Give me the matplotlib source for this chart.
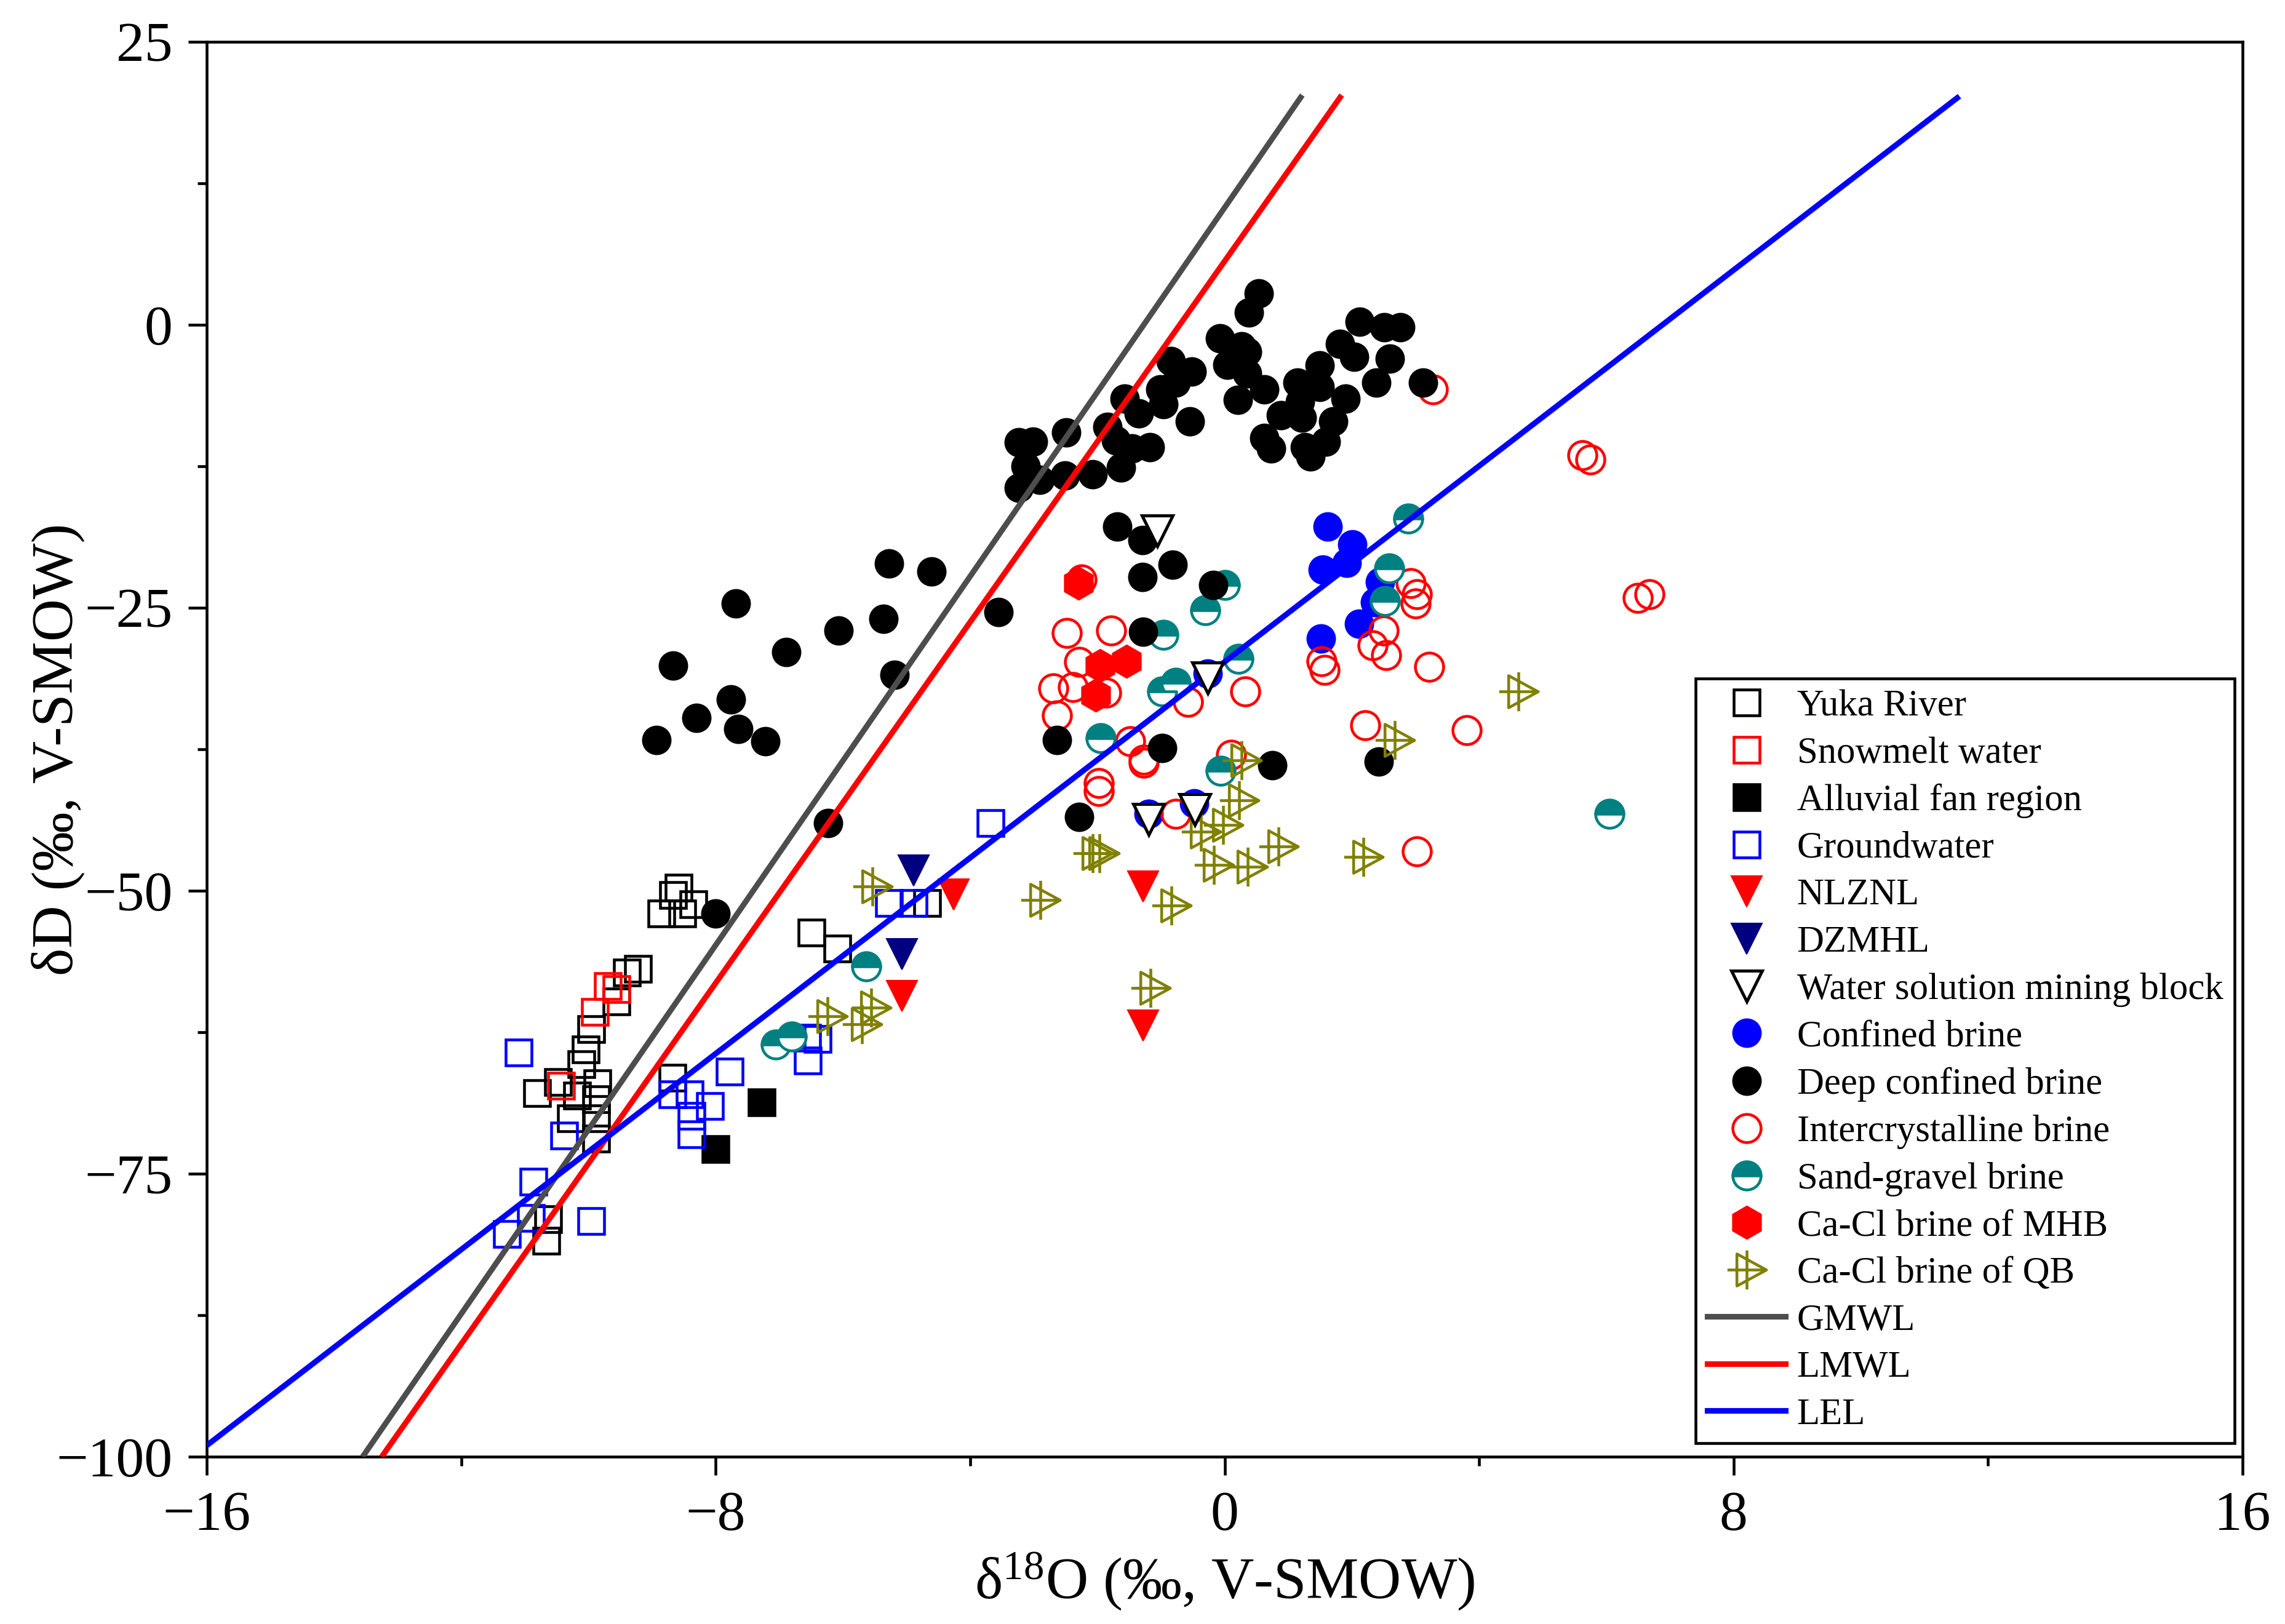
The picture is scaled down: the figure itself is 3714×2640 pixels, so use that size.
import matplotlib
matplotlib.use("Agg")
import matplotlib.pyplot as plt
from matplotlib.path import Path
from matplotlib.lines import Line2D
from matplotlib.ticker import MultipleLocator
import numpy as np

plt.rcParams['font.family'] = ['Liberation Serif', 'DejaVu Serif']
plt.rcParams['mathtext.fontset'] = 'custom'
plt.rcParams['mathtext.rm'] = 'Liberation Serif'
plt.rcParams['mathtext.it'] = 'Liberation Serif:italic'

# ---------------- data ----------------
yuka_x = [-8.58, -8.67, -8.35, -8.85, -8.53, -9.22, -9.40, -9.56, -9.96, -10.04, -10.11, -10.81,
          -10.48, -9.86, -10.18, -9.88, -10.28, -9.88, -9.88, -8.68, -10.63, -10.66, -6.49, -6.09, -4.68]
yuka_y = [-49.7, -50.4, -51.2, -52.0, -52.0, -56.9, -57.2, -59.8, -62.2, -64.0, -65.3, -67.9,
          -66.9, -67.0, -68.1, -68.4, -70.1, -70.1, -71.9, -66.5, -79.0, -80.9, -53.7, -55.1, -51.1]

snow_x = [-9.70, -9.56, -9.90, -10.43]
snow_y = [-58.4, -58.7, -60.7, -67.2]

alluv_x = [-7.28, -8.00]
alluv_y = [-68.7, -72.8]

gw_x = [-11.10, -10.38, -10.87, -10.90, -11.28, -9.96, -8.68, -8.41, -8.09, -8.38, -8.38, -7.78,
        -6.56, -6.40, -6.55, -5.28, -4.89, -3.68]
gw_y = [-64.3, -71.6, -75.7, -78.9, -80.3, -79.2, -68.0, -68.0, -69.0, -69.9, -71.5, -66.0,
        -63.0, -63.1, -65.0, -51.1, -51.1, -44.0]

nlznl_x = [-4.26, -5.07, -1.28, -1.28]
nlznl_y = [-50.3, -59.3, -49.6, -61.9]

dzmhl_x = [-4.89, -5.07]
dzmhl_y = [-48.2, -55.6]

wsmb_x = [-1.06, -0.27, -1.19, -0.47]
wsmb_y = [-18.2, -31.2, -43.7, -42.8]

conf_x = [1.62, 2.01, 1.54, 1.92, 2.44, 2.36, 2.11, 1.51, -0.27, -1.19, -0.48]
conf_y = [-17.8, -19.4, -21.6, -21.0, -22.7, -24.5, -26.4, -27.7, -30.8, -43.2, -42.3]

deep_x = [0.54, 0.38, -0.07, 0.27, 0.35, 0.04, 0.35, 0.62, 0.21, 2.12, 2.51, 2.76, 1.81, 2.04,
          2.60, 2.38, 3.12, 1.49, 1.15, 1.49, 1.90, 0.88, 1.21, 1.71, 0.62, 0.73, 1.26, 1.59,
          1.35, 1.18, -0.85, -0.52, -1.01, -0.77, -1.57, -1.35, -0.96, -0.55, -1.84, -1.71,
          -1.18, -1.63, -2.07, -2.49, -3.24, -3.01, -3.13, -3.24, -2.91, -2.51, -1.46,
          -1.69, -1.29, -1.29, -0.82, -0.18,
          -5.28, -4.61, -7.68, -3.55, -6.07, -5.36, -6.89, -8.67, -5.19, -7.76, -8.30, -7.65,
          -8.93, -7.22, -6.23, -8.00, -1.28, -2.64, -0.98, 0.75, -2.29, 2.42]
deep_y = [2.8, 1.1, -1.2, -1.9, -2.4, -3.5, -4.3, -5.7, -6.6, 0.3, -0.2, -0.2, -1.7, -2.8,
          -3.0, -5.1, -5.1, -3.6, -5.1, -5.5, -6.5, -8.0, -8.2, -8.5, -10.0, -10.9, -10.8, -10.3,
          -11.6, -6.8, -3.2, -4.1, -5.7, -5.1, -6.5, -7.8, -7.0, -8.5, -9.0, -10.2,
          -10.8, -12.6, -13.2, -9.5, -10.4, -10.3, -12.5, -14.4, -13.7, -13.3, -10.9,
          -17.8, -19.0, -22.3, -21.2, -23.0,
          -21.1, -21.8, -24.6, -25.4, -27.0, -26.0, -28.9, -30.1, -30.9, -33.1, -34.7, -35.7,
          -36.7, -36.8, -44.0, -52.0, -27.1, -36.7, -37.4, -38.9, -43.5, -38.6]

inter_x = [-2.25, -2.48, -1.78, -2.29, -2.69, -2.38, -1.86, -2.64, -1.48, -1.27, -1.27, -1.98,
           -1.98, -0.58, 0.32, 0.10, -0.77, 1.52, 1.57, 2.93, 3.02, 3.00, 2.50, 2.33, 2.54,
           3.22, 2.21, 3.81, 3.02, 5.62, 5.75, 6.49, 6.68, 3.27]
inter_y = [-22.5, -27.2, -27.0, -29.8, -32.1, -32.0, -32.5, -34.5, -36.8, -38.4, -38.7, -40.5,
           -41.2, -33.3, -32.4, -38.0, -43.2, -29.7, -30.5, -22.8, -23.8, -24.6, -27.0, -28.3,
           -29.2, -30.2, -35.4, -35.8, -46.5, -11.5, -11.9, -24.1, -23.8, -5.7]

sand_x = [2.89, 2.59, 2.52, 6.05, 0.00, -0.30, -0.96, 0.22, -0.77, -0.98, -1.95, -0.06,
          -5.63, -7.06, -6.80]
sand_y = [-17.1, -21.5, -24.4, -43.2, -23.0, -25.2, -27.4, -29.5, -31.6, -32.4, -36.5, -39.4,
          -56.7, -63.6, -62.9]

mhb_x = [-2.30, -1.96, -1.54, -2.03]
mhb_y = [-22.8, -30.1, -29.7, -32.7]

qb_x = [-6.24, -5.56, -5.70, -5.54, -2.90, -2.07, -1.97, -0.84, -1.17, -0.37, -0.02, 0.23,
        -0.17, 0.36, 0.27, 0.85, 2.18, 2.67, 4.62]
qb_y = [-61.1, -60.3, -61.8, -49.6, -50.8, -46.7, -46.7, -51.3, -58.6, -44.8, -44.2, -42.0,
        -47.7, -47.9, -38.5, -46.1, -47.0, -36.7, -32.4]

# reference lines: end points
gmwl_x = [-13.55, 1.22]
gmwl_y = [-100.0, 20.3]
lmwl_x = [-13.25, 1.84]
lmwl_y = [-100.0, 20.3]
lel_x = [-16.0, 11.55]
lel_y = [-99.0, 20.2]

labels = ["Yuka River", "Snowmelt water", "Alluvial fan region", "Groundwater", "NLZNL",
          "DZMHL", "Water solution mining block", "Confined brine", "Deep confined brine",
          "Intercrystalline brine", "Sand-gravel brine", "Ca-Cl brine of MHB",
          "Ca-Cl brine of QB", "GMWL", "LMWL", "LEL"]

# ---------------- styles ----------------
# custom "right triangle with cross" marker
qb_verts = [(-16, 25.5), (-16, -25.5), (31, 0), (-16, 25.5),
            (-31, 0), (31, 0),
            (0, -31), (0, 31)]
qb_codes = [Path.MOVETO, Path.LINETO, Path.LINETO, Path.CLOSEPOLY,
            Path.MOVETO, Path.LINETO,
            Path.MOVETO, Path.LINETO]
qb_marker = Path(qb_verts, qb_codes)

OLIVE = '#808000'
TEAL = '#008080'
NAVY = '#000080'

SQ = 9.9
styles = {
    "Yuka River": dict(marker='s', ms=SQ, mfc='none', mec='black', mew=1.1),
    "Snowmelt water": dict(marker='s', ms=SQ, mfc='none', mec='#ff0000', mew=1.1),
    "Alluvial fan region": dict(marker='s', ms=SQ, mfc='black', mec='black', mew=1.1),
    "Groundwater": dict(marker='s', ms=SQ, mfc='none', mec='#0000ff', mew=1.1),
    "NLZNL": dict(marker='v', ms=12, mfc='#ff0000', mec='#ff0000', mew=0.5),
    "DZMHL": dict(marker='v', ms=12, mfc=NAVY, mec=NAVY, mew=0.5),
    "Water solution mining block": dict(marker='v', ms=12, mfc='white', mec='black', mew=1.2),
    "Confined brine": dict(marker='o', ms=11, mfc='#0000ff', mec='#0000ff', mew=0.5),
    "Deep confined brine": dict(marker='o', ms=11, mfc='black', mec='black', mew=0.5),
    "Intercrystalline brine": dict(marker='o', ms=11, mfc='none', mec='#ff0000', mew=1.1),
    "Sand-gravel brine": dict(marker='o', ms=11, fillstyle='top', mfc=TEAL,
                              mfcalt='white', mec=TEAL, mew=1.1),
    "Ca-Cl brine of MHB": dict(marker='h', ms=12.8, mfc='#ff0000', mec='#ff0000', mew=0.5),
    "Ca-Cl brine of QB": dict(marker=qb_marker, ms=15.2, mfc='none', mec=OLIVE, mew=1.1),
}
line_styles = {
    "GMWL": dict(color='#4d4d4d', lw=2.2),
    "LMWL": dict(color='#ff0000', lw=2.2),
    "LEL": dict(color='#0000ff', lw=2.2),
}

series = {
    "Yuka River": (yuka_x, yuka_y),
    "Snowmelt water": (snow_x, snow_y),
    "Alluvial fan region": (alluv_x, alluv_y),
    "Groundwater": (gw_x, gw_y),
    "NLZNL": (nlznl_x, nlznl_y),
    "DZMHL": (dzmhl_x, dzmhl_y),
    "Water solution mining block": (wsmb_x, wsmb_y),
    "Confined brine": (conf_x, conf_y),
    "Deep confined brine": (deep_x, deep_y),
    "Intercrystalline brine": (inter_x, inter_y),
    "Sand-gravel brine": (sand_x, sand_y),
    "Ca-Cl brine of MHB": (mhb_x, mhb_y),
    "Ca-Cl brine of QB": (qb_x, qb_y),
}
lines = {"GMWL": (gmwl_x, gmwl_y), "LMWL": (lmwl_x, lmwl_y), "LEL": (lel_x, lel_y)}

draw_order = ["Yuka River", "Snowmelt water", "Alluvial fan region", "Groundwater",
              "Confined brine", "Intercrystalline brine", "Sand-gravel brine",
              "Deep confined brine", "Ca-Cl brine of MHB", "NLZNL", "DZMHL",
              "Ca-Cl brine of QB"]

# ---------------- figure ----------------
fig = plt.figure(figsize=(12.38, 8.8), dpi=300)
ax = fig.add_axes([0.0905, 0.1030, 0.8909, 0.8712])

z = 3
for name in draw_order:
    x, y = series[name]
    ax.plot(x, y, ls='none', zorder=z, **styles[name])
    z += 0.1
for name in ["GMWL", "LMWL", "LEL"]:
    x, y = lines[name]
    ax.plot(x, y, zorder=5, solid_capstyle='butt', **line_styles[name])
x, y = series["Water solution mining block"]
ax.plot(x, y, ls='none', zorder=6, **styles["Water solution mining block"])

ax.set_xlim(-16, 16)
ax.set_ylim(-100, 25)
ax.xaxis.set_major_locator(MultipleLocator(8))
ax.xaxis.set_minor_locator(MultipleLocator(4))
ax.yaxis.set_major_locator(MultipleLocator(25))
ax.yaxis.set_minor_locator(MultipleLocator(12.5))
ax.tick_params(which='both', direction='out', top=False, right=False, width=1.1,
               labelsize=22, pad=6)
ax.tick_params(which='major', length=7.3)
ax.tick_params(which='minor', length=3.6)
for sp in ax.spines.values():
    sp.set_linewidth(1.1)

ax.set_xlabel(r'δ$^{\mathrm{18}}$O (‰, V-SMOW)', fontsize=23)
ax.set_ylabel('δD (‰, V-SMOW)', fontsize=23)
ax.xaxis.set_label_coords(0.5, -0.067)
ax.yaxis.set_label_coords(-0.060, 0.5)

handles = []
for name in labels:
    if name in styles:
        handles.append(Line2D([], [], ls='none', **styles[name]))
    else:
        handles.append(Line2D([], [], **line_styles[name]))

leg = ax.legend(handles, labels, loc='lower right', bbox_to_anchor=(0.996, 0.0096),
                borderaxespad=0, fontsize=14.6, frameon=True, fancybox=False,
                edgecolor='black', framealpha=1, handlelength=2.1, handletextpad=0.3,
                borderpad=0.3, labelspacing=0.345, numpoints=1)
leg.get_frame().set_linewidth(1.1)
leg.set_zorder(10)

fig.savefig('out.png', dpi=300)
